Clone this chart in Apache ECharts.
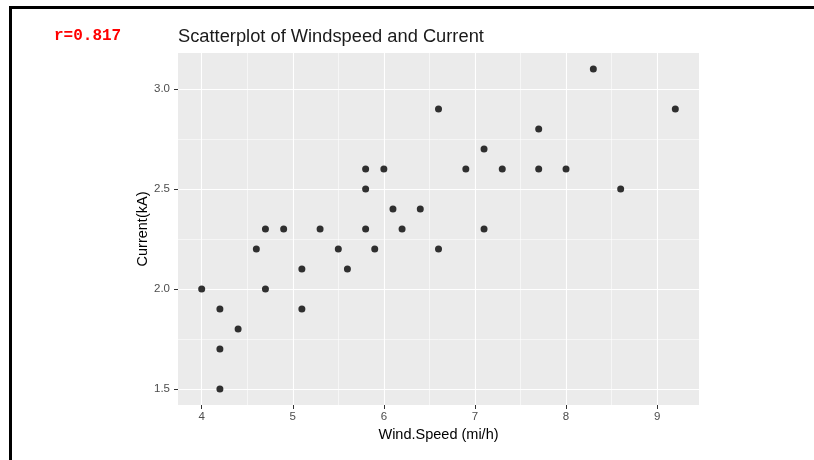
<!DOCTYPE html>
<html>
<head>
<meta charset="utf-8">
<script src="https://cdn.jsdelivr.net/npm/echarts@6/dist/echarts.min.js"></script>
<style>
  html, body { margin: 0; padding: 0; background: #fff; }
  #chart { width: 814px; height: 460px; }
</style>
</head>
<body>
<div id="chart"></div>
<script>
// Wind speed (mi/h) and current (kA) observations
const windSpeed = [4.0, 4.2, 4.2, 4.2, 4.4, 4.6, 4.7, 4.7, 4.9, 5.1, 5.1, 5.3, 5.5, 5.6,
  5.8, 5.8, 5.8, 5.9, 6.0, 6.1, 6.2, 6.4, 6.6, 6.6, 6.9, 7.1, 7.1, 7.3, 7.7, 7.7,
  8.0, 8.3, 8.6, 9.2];
const current = [2.0, 1.9, 1.7, 1.5, 1.8, 2.2, 2.3, 2.0, 2.3, 2.1, 1.9, 2.3, 2.2, 2.1,
  2.6, 2.5, 2.3, 2.2, 2.6, 2.4, 2.3, 2.4, 2.9, 2.2, 2.6, 2.7, 2.3, 2.6, 2.8, 2.6,
  2.6, 3.1, 2.5, 2.9];

// Axis breaks
const xMajor = [4, 5, 6, 7, 8, 9];
const xMinor = [4.5, 5.5, 6.5, 7.5, 8.5];
const yMajor = [1.5, 2.0, 2.5, 3.0];
const yMinor = [1.75, 2.25, 2.75];

const rLabel = 'r=0.817';
const titleText = 'Scatterplot of Windspeed and Current';

// Panel range: data range padded by 5% on each side
const pad = (arr) => {
  const lo = Math.min(...arr), hi = Math.max(...arr), d = (hi - lo) * 0.05;
  return [lo - d, hi + d];
};
const [xMin, xMax] = pad(windSpeed);
const [yMin, yMax] = pad(current);

const points = windSpeed.map((x, i) => [x, current[i]]);

const tickLabel = { color: '#4D4D4D', fontFamily: 'Liberation Sans, Arial, sans-serif', fontSize: 11.5 };

const chart = echarts.init(document.getElementById('chart'), null, { renderer: 'canvas' });
chart.setOption({
  animation: false,
  backgroundColor: '#ffffff',
  title: {
    text: titleText,
    left: 173,
    top: 23,
    textStyle: { color: '#1a1a1a', fontWeight: 'normal', fontSize: 18.3, fontFamily: 'Liberation Sans, Arial, sans-serif' }
  },
  grid: {
    left: 178, top: 53, width: 521, height: 352,
    show: true, backgroundColor: '#EBEBEB', borderWidth: 0
  },
  graphic: [
    { type: 'line', shape: { x1: 10.5, y1: 7.5, x2: 814, y2: 7.5 }, style: { stroke: '#000', lineWidth: 3 } },
    { type: 'line', shape: { x1: 10.5, y1: 6, x2: 10.5, y2: 460 }, style: { stroke: '#000', lineWidth: 3 } },
    {
      type: 'text', left: 54, top: 28,
      style: { text: rLabel, fill: '#FF0000', font: 'bold 16px "Liberation Mono", "Courier New", monospace' }
    }
  ],
  xAxis: [
    {
      type: 'value', min: xMin, max: xMax,
      name: 'Wind.Speed (mi/h)', nameLocation: 'middle', nameGap: 22, nameMoveOverlap: false,
      nameTextStyle: { color: '#000', fontSize: 14.5, fontFamily: 'Liberation Sans, Arial, sans-serif' },
      axisLine: { show: false },
      axisTick: { show: true, length: 4, customValues: xMajor, lineStyle: { color: '#333', width: 1 } },
      axisLabel: Object.assign({ customValues: xMajor, margin: 6, formatter: (v) => String(v) }, tickLabel),
      splitLine: { show: true, lineStyle: { color: '#ffffff', width: 1.1 } }
    },
    {
      type: 'value', min: xMin, max: xMax, position: 'top',
      axisLine: { show: false },
      axisTick: { show: false, customValues: xMinor },
      axisLabel: { show: false, customValues: xMinor },
      splitLine: { show: true, lineStyle: { color: '#ffffff', width: 0.55 } }
    }
  ],
  yAxis: [
    {
      type: 'value', min: yMin, max: yMax,
      name: 'Current(kA)', nameLocation: 'middle', nameGap: 28, nameRotate: 90, nameMoveOverlap: false,
      nameTextStyle: { color: '#000', fontSize: 14.5, fontFamily: 'Liberation Sans, Arial, sans-serif' },
      axisLine: { show: false },
      axisTick: { show: true, length: 4, customValues: yMajor, lineStyle: { color: '#333', width: 1 } },
      axisLabel: Object.assign({ customValues: yMajor, margin: 8, formatter: (v) => v.toFixed(1) }, tickLabel),
      splitLine: { show: true, lineStyle: { color: '#ffffff', width: 1.1 } }
    },
    {
      type: 'value', min: yMin, max: yMax, position: 'right',
      axisLine: { show: false },
      axisTick: { show: false, customValues: yMinor },
      axisLabel: { show: false, customValues: yMinor },
      splitLine: { show: true, lineStyle: { color: '#ffffff', width: 0.55 } }
    }
  ],
  series: [
    {
      type: 'scatter',
      xAxisIndex: 0, yAxisIndex: 0,
      data: points,
      symbol: 'circle',
      symbolSize: 7,
      itemStyle: { color: '#000000' },
      z: 5
    }
  ]
});
</script>
</body>
</html>
